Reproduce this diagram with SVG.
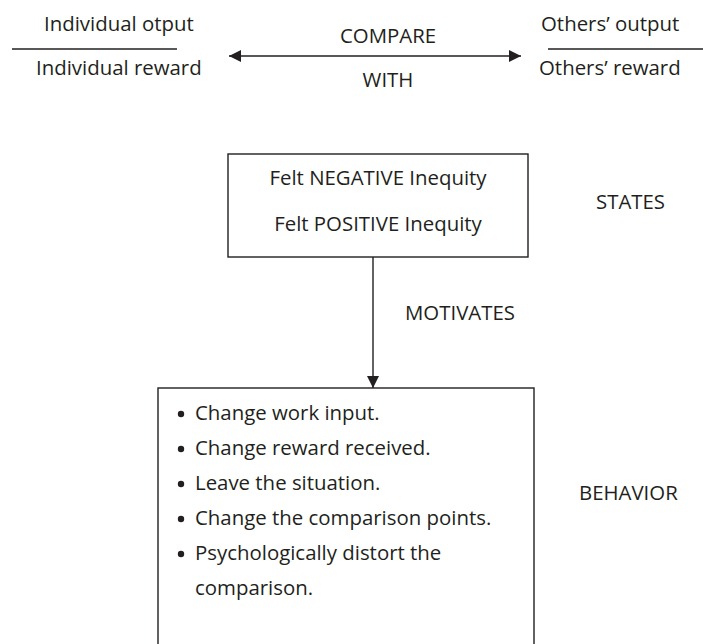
<svg xmlns="http://www.w3.org/2000/svg" width="703" height="644" viewBox="0 0 703 644">
  <defs>
    <style>
      text { font-family: "Open Sans", "Noto Sans", "Liberation Sans", sans-serif; font-size: 20.4px; fill: #231f20; }
      .mid { text-anchor: middle; }
      .rule { stroke: #231f20; stroke-width: 1.4; fill: none; }
      .box { stroke: #231f20; stroke-width: 1.4; fill: #ffffff; }
      .dot { fill: #231f20; }
    </style>
    <marker id="head" viewBox="0 0 12 12" refX="12" refY="6" markerWidth="12" markerHeight="12" markerUnits="userSpaceOnUse" orient="auto-start-reverse">
      <path d="M0,0 L12,6 L0,12 Z" fill="#231f20"/>
    </marker>
  </defs>

  <rect width="703" height="644" fill="#ffffff"/>

  <!-- individual ratio -->
  <g id="individual-ratio">
    <text x="44" y="31">Individual otput</text>
    <line class="rule" x1="12" y1="49" x2="177" y2="49"/>
    <text x="36" y="75">Individual reward</text>
  </g>

  <!-- others' ratio -->
  <g id="others-ratio">
    <text x="541" y="31">Others’ output</text>
    <line class="rule" x1="548" y1="49" x2="703" y2="49"/>
    <text x="539" y="75">Others’ reward</text>
  </g>

  <!-- states box -->
  <g id="states">
    <rect class="box" x="228" y="154" width="300" height="103"/>
    <text class="mid" x="378" y="185">Felt NEGATIVE Inequity</text>
    <text class="mid" x="378" y="231">Felt POSITIVE Inequity</text>
  </g>
  <g id="states-label">
    <text x="596" y="209">STATES</text>
  </g>

  <!-- behavior box -->
  <g id="behavior">
    <rect class="box" x="158" y="388" width="376" height="280"/>
    <circle class="dot" cx="181" cy="414" r="3.2"/>
    <text x="195" y="420">Change work input.</text>
    <circle class="dot" cx="181" cy="449" r="3.2"/>
    <text x="195" y="455">Change reward received.</text>
    <circle class="dot" cx="181" cy="484" r="3.2"/>
    <text x="195" y="490">Leave the situation.</text>
    <circle class="dot" cx="181" cy="519" r="3.2"/>
    <text x="195" y="525">Change the comparison points.</text>
    <circle class="dot" cx="181" cy="554" r="3.2"/>
    <text x="195" y="560">Psychologically distort the</text>
    <text x="195" y="595">comparison.</text>
  </g>
  <g id="behavior-label">
    <text x="579" y="500">BEHAVIOR</text>
  </g>

  <!-- connectors -->
  <g id="connectors">
    <line class="rule" x1="229" y1="56" x2="521" y2="56" marker-start="url(#head)" marker-end="url(#head)"/>
    <text class="mid" x="388" y="43">COMPARE</text>
    <text class="mid" x="388" y="87">WITH</text>
    <line class="rule" x1="373" y1="257" x2="373" y2="388" marker-end="url(#head)"/>
    <text x="405" y="320">MOTIVATES</text>
  </g>
</svg>
